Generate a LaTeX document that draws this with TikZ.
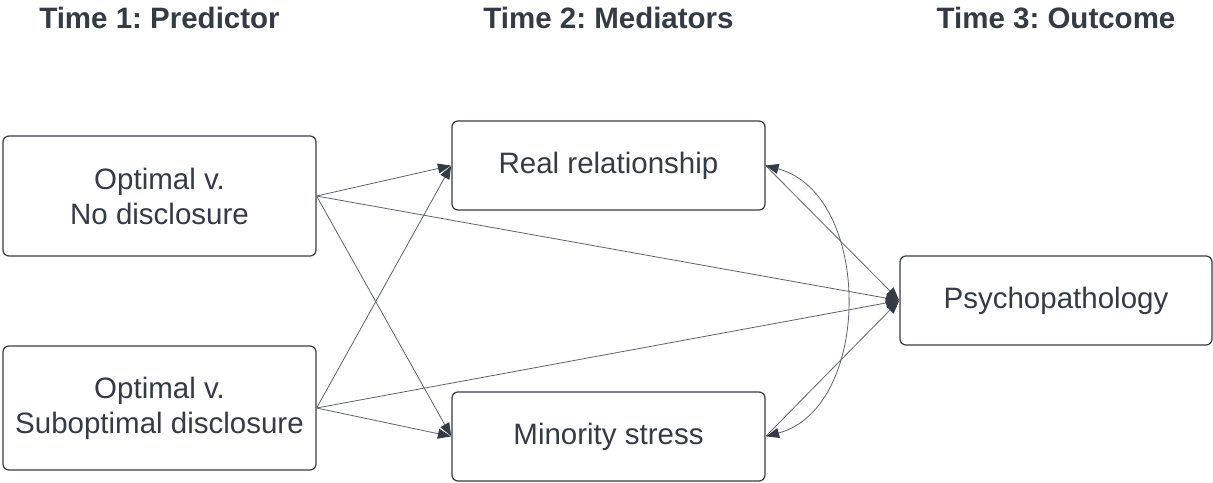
\documentclass[tikz,border=0pt]{standalone}
\usepackage{fontspec}
\setmainfont{Liberation Sans}
\usepackage{tikz}
\usetikzlibrary{arrows.meta}
\definecolor{inkgray}{HTML}{353B45}
\definecolor{edgegray}{HTML}{5E636B}
\frenchspacing

\begin{document}
\begin{tikzpicture}[x=1pt,y=-1pt,
    varbox/.style={draw=inkgray,line width=1.2pt,rounded corners=6pt,
      minimum width=313pt,inner sep=0pt,align=center,text=inkgray,
      font=\fontsize{29.5}{35}\selectfont},
    timehead/.style={anchor=base,text=inkgray,font=\fontsize{29.5}{35}\selectfont\bfseries},
    path/.style={draw=edgegray,line width=0.8pt,
      -{Triangle[length=13pt,width=10pt,color=inkgray]},shorten >=0.5pt}]
      \useasboundingbox (0,0) rectangle (1213,482);
      % column headings
      \node[timehead](t1) at (159.5,28){Time 1: Predictor};
      \node[timehead](t2) at (608.5,28){Time 2: Mediators};
      \node[timehead](t3) at (1056,28){Time 3: Outcome};
      % variables
      \node[varbox,minimum height=120pt](nodis) at (159.5,196){Optimal v.\\No disclosure};
      \node[varbox,minimum height=124pt](subdis) at (159.5,408){Optimal v.\\Suboptimal disclosure};
      \node[varbox,minimum height=89pt](real) at (608.5,165.5){Real relationship};
      \node[varbox,minimum height=89pt](minor) at (608.5,436.5){Minority stress};
      \node[varbox,minimum width=312pt,minimum height=89pt](psych) at (1056,300.5){Psychopathology};
      % paths
      \draw[path](nodis.east)--(real.west);
      \draw[path](nodis.east)--(minor.west);
      \draw[path](nodis.east)--(psych.west);
      \draw[path](subdis.east)--(real.west);
      \draw[path](subdis.east)--(minor.west);
      \draw[path](subdis.east)--(psych.west);
      \draw[path](real.east)--(psych.west);
      \draw[path](minor.east)--(psych.west);
      \draw[path,{Triangle[length=13pt,width=10pt,color=inkgray]}-{Triangle[length=13pt,width=10pt,color=inkgray]}]
        (real.east) to[out=-15,in=15,looseness=1.05] (minor.east);
    \end{tikzpicture}
\end{document}
